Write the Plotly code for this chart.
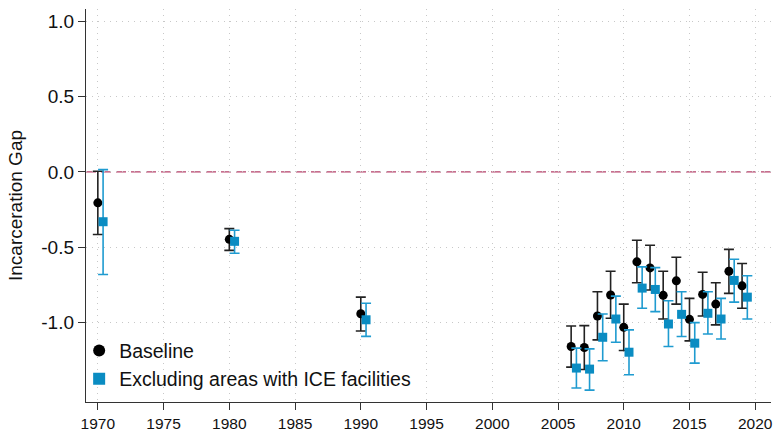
import plotly.graph_objects as go

years = [1970, 1980, 1990, 2006, 2007, 2008, 2009, 2010, 2011, 2012, 2013, 2014, 2015, 2016, 2017, 2018, 2019]

base_est = [-0.205, -0.447, -0.94, -1.157, -1.164, -0.955, -0.816, -1.03, -0.596, -0.636, -0.818, -0.722, -0.977, -0.812, -0.876, -0.658, -0.755]
base_hi = [0.005, -0.376, -0.83, -1.021, -1.019, -0.794, -0.658, -0.876, -0.453, -0.486, -0.658, -0.566, -0.838, -0.665, -0.735, -0.513, -0.607]
base_lo = [-0.415, -0.52, -1.054, -1.294, -1.31, -1.113, -0.970, -1.184, -0.735, -0.783, -0.975, -0.876, -1.12, -0.955, -1.014, -0.805, -0.904]

ice_est = [-0.33, -0.46, -0.98, -1.30, -1.307, -1.096, -0.975, -1.195, -0.77, -0.779, -1.008, -0.944, -1.135, -0.937, -0.975, -0.719, -0.83]
ice_hi = [0.015, -0.387, -0.87, -1.168, -1.173, -0.942, -0.823, -1.047, -0.629, -0.634, -0.854, -0.794, -0.999, -0.794, -0.838, -0.579, -0.688]
ice_lo = [-0.68, -0.539, -1.09, -1.432, -1.446, -1.252, -1.129, -1.344, -0.904, -0.926, -1.157, -1.091, -1.267, -1.074, -1.107, -0.863, -0.975]

x_ticks = [1970, 1975, 1980, 1985, 1990, 1995, 2000, 2005, 2010, 2015, 2020]
y_ticks = [1.0, 0.5, 0.0, -0.5, -1.0]
y_tick_labels = ["1.0", "0.5", "0.0", "-0.5", "-1.0"]

BLUE = "#0a8cc2"
BLACK = "#000000"
offset = 0.4

fig = go.Figure()

fig.add_trace(go.Scatter(
    x=years, y=base_est, mode="markers", name="Baseline",
    marker=dict(symbol="circle", size=9, color=BLACK),
    error_y=dict(type="data", symmetric=False,
                 array=[h - e for h, e in zip(base_hi, base_est)],
                 arrayminus=[e - l for l, e in zip(base_lo, base_est)],
                 color="#222222", thickness=1.6, width=5),
))
fig.add_trace(go.Scatter(
    x=[y + offset for y in years], y=ice_est, mode="markers", name="Excluding areas with ICE facilities",
    marker=dict(symbol="square", size=9, color=BLUE),
    error_y=dict(type="data", symmetric=False,
                 array=[h - e for h, e in zip(ice_hi, ice_est)],
                 arrayminus=[e - l for l, e in zip(ice_lo, ice_est)],
                 color="#1f9bd0", thickness=1.6, width=5),
))

fig.add_shape(type="line", xref="paper", x0=0, x1=1, yref="y", y0=0, y1=0,
              line=dict(color="#b5406a", width=1.3, dash="10px,5px"), layer="between")

GRID = "#c8c8c8"
fig.update_layout(
    width=773, height=432,
    margin=dict(l=86, r=0, t=9, b=28),
    plot_bgcolor="white", paper_bgcolor="white",
    font=dict(family="Liberation Sans, Arial, sans-serif", color="#111111"),
    showlegend=True,
    legend=dict(x=-0.01, y=0.18, xanchor="left", yanchor="top",
                bgcolor="rgba(0,0,0,0)", font=dict(size=19.5),
                itemsizing="constant", tracegroupgap=0, itemwidth=30),
    xaxis=dict(range=[1969.1, 2021.2], tickvals=x_ticks, ticks="outside", ticklen=7,
               tickcolor="#333333", showline=True, linecolor="#333333", linewidth=1.3,
               showgrid=True, gridcolor=GRID, griddash="1px,5px", gridwidth=1,
               zeroline=False, tickfont=dict(size=15.5), ticklabeloverflow="allow"),
    yaxis=dict(range=[-1.525, 1.08], tickvals=y_ticks, ticktext=y_tick_labels,
               ticks="outside", ticklen=7, tickcolor="#333333",
               showline=True, linecolor="#333333", linewidth=1.3,
               showgrid=True, gridcolor=GRID, griddash="1px,5px", gridwidth=1,
               zeroline=False, tickfont=dict(size=19),
               title=dict(text="Incarceration Gap", font=dict(size=19), standoff=13)),
)

fig.write_html("out.html")
